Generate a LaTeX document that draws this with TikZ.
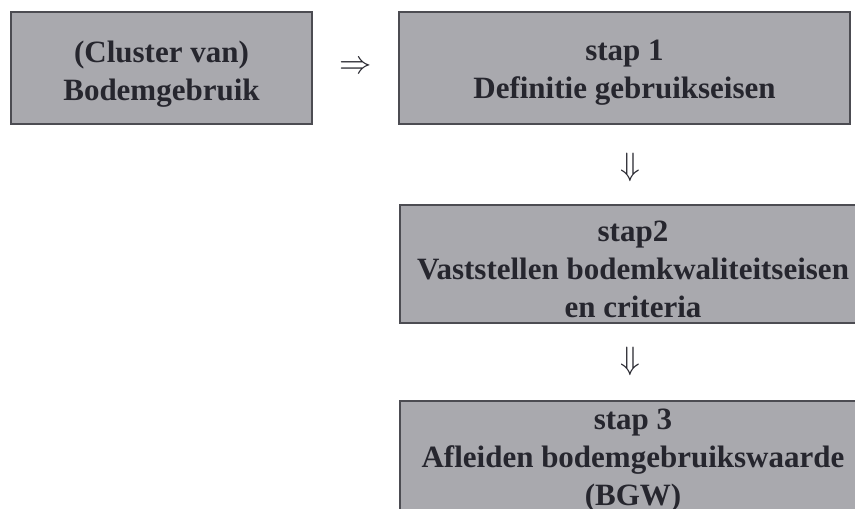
\documentclass[tikz,border=0pt]{standalone}
\usepackage{fontspec}
\setmainfont{Liberation Serif}
\usetikzlibrary{calc}
\begin{document}
\begin{tikzpicture}[x=1pt,y=-1pt,
  stepbox/.style={draw=boxline, line width=1.6pt, fill=boxfill, inner sep=0pt},
  steptext/.style={text=ink, align=center, inner sep=0pt,
    font=\bfseries\fontsize{31}{38}\selectfont},
  flowsym/.style={text=ink, inner sep=0pt, scale=1.3,
    font=\fontsize{24.88}{25}\selectfont}]
\definecolor{boxfill}{HTML}{A9A9AE}
\definecolor{boxline}{HTML}{4C4C52}
\definecolor{ink}{HTML}{26262E}
\useasboundingbox (0,0) rectangle (855,509);
\clip (0,0) rectangle (855,509);

% left input box
\node[stepbox, minimum width=301pt, minimum height=112pt] (use) at (161.5,68) {};
\node[steptext] (usetext) at ([yshift=-6pt]use.center) {(Cluster van)\\Bodemgebruik};

% the three steps
\node[stepbox, minimum width=451pt, minimum height=112pt] (s1) at (624.5,68) {};
\node[steptext] (s1text) at ([yshift=-5pt]s1.center) {stap 1\\Definitie gebruikseisen};

\node[stepbox, minimum width=466pt, minimum height=118pt] (s2) at (633,264) {};
\node[steptext] (s2text) at ([yshift=-5pt]s2.center)
  {stap2\\Vaststellen bodemkwaliteitseisen\\en criteria};

\node[stepbox, minimum width=466pt, minimum height=118pt] (s3) at (633,460) {};
\node[steptext] (s3text) at ([yshift=-1pt]s3.center)
  {stap 3\\Afleiden bodemgebruikswaarde\\(BGW)};

% arrow symbols between the boxes
\node[flowsym] (a1) at ($(use.east)!0.5!(s1.west)$) {$\Rightarrow$};
\node[flowsym] (a2) at (630,167) {$\Downarrow$};
\node[flowsym] (a3) at (630,361) {$\Downarrow$};
\end{tikzpicture}
\end{document}
